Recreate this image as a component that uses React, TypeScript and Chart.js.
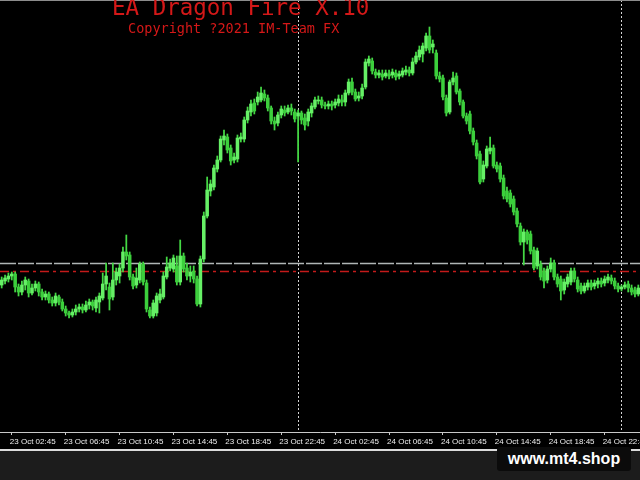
import { useEffect, useRef } from "react";
import { Chart, registerables } from "chart.js";

Chart.register(...registerables);

// M15 candles, first candle = 23 Oct 02:00 (prices in points)
const open = [
  215, 219, 221, 224, 226, 213, 208, 215, 219, 207,
  212, 216, 208, 203, 206, 200, 197, 203, 198, 191,
  187, 185, 188, 191, 193, 190, 195, 198, 192, 198,
  202, 216, 213, 203, 220, 224, 232, 248, 245, 223,
  215, 220, 236, 217, 190, 184, 187, 200, 203, 223,
  232, 231, 234, 218, 244, 232, 224, 229, 221, 196,
  241, 284,
  309, 313, 331, 340, 360, 363, 352, 340, 341, 361,
  361, 380, 388, 397, 398, 400, 406, 402, 392, 379,
  377, 385, 390, 388, 392, 388, 384, 387, 382, 379,
  387, 393, 399, 400, 395, 394, 396, 395, 397, 400,
  398, 407, 418, 408, 402, 404, 413, 437, 439, 428,
  425, 426, 424, 426, 425, 427, 424, 425, 428, 430,
  427, 438, 443, 446,
  452, 464, 453, 447, 424, 422, 402, 388, 418, 424,
  409, 398, 384, 386, 369, 357, 346, 321, 334, 349,
  352, 335, 334, 322, 309, 307, 301, 289, 274, 258,
  268, 266, 250, 234, 236, 229, 220, 231, 237, 223,
  221, 210, 216, 218, 229, 220, 214, 209, 213, 217,
  214, 216, 219, 217, 220, 222, 219, 214, 211, 213,
  216, 212, 210, 206,
];
const close = [
  220, 222, 224, 226, 213, 208, 215, 220, 207, 212,
  216, 208, 203, 206, 200, 197, 204, 198, 191, 187,
  185, 188, 191, 193, 190, 195, 198, 194, 200, 204,
  216, 224, 201, 220, 228, 232, 248, 244, 223, 214,
  222, 236, 218, 191, 184, 197, 204, 206, 224, 233,
  237, 242, 218, 244, 231, 224, 228, 221, 196, 241,
  284, 310,
  316, 332, 340, 361, 364, 350, 339, 343, 362, 363,
  380, 389, 396, 389, 403, 407, 402, 392, 379, 376,
  385, 391, 387, 392, 389, 381, 387, 380, 375, 388,
  394, 400, 400, 395, 394, 396, 394, 398, 401, 398,
  407, 418, 408, 401, 404, 412, 438, 441, 429, 425,
  427, 423, 427, 424, 428, 423, 426, 429, 430, 427,
  438, 444, 450, 454,
  464, 450, 456, 424, 421, 403, 387, 418, 422, 408,
  398, 384, 379, 369, 358, 344, 318, 335, 351, 352,
  334, 331, 321, 304, 301, 296, 288, 276, 258, 268,
  260, 249, 232, 249, 223, 219, 231, 237, 223, 216,
  209, 218, 223, 229, 221, 211, 209, 214, 217, 213,
  217, 219, 216, 221, 223, 219, 214, 211, 213, 215,
  212, 208, 206, 212,
];
const high = [
  223, 225, 227, 228, 228, 216, 219, 223, 221, 216,
  219, 218, 211, 209, 208, 203, 207, 205, 201, 194,
  189, 191, 195, 196, 196, 199, 201, 200, 203, 207,
  227, 237, 217, 237, 232, 236, 253, 265, 248, 226,
  232, 238, 238, 220, 193, 200, 207, 211, 228, 243,
  241, 245, 244, 260, 247, 237, 234, 234, 224, 244,
  288, 323,
  320, 335, 344, 364, 370, 366, 355, 347, 365, 367,
  383, 393, 400, 401, 408, 413, 410, 405, 394, 383,
  388, 394, 394, 395, 396, 391, 390, 389, 386, 391,
  397, 403, 404, 403, 398, 399, 399, 401, 405, 405,
  410, 421, 422, 411, 408, 416, 441, 444, 442, 431,
  430, 430, 430, 430, 431, 430, 429, 432, 434, 433,
  442, 448, 454, 457,
  467, 473, 460, 450, 428, 425, 405, 420, 428, 427,
  411, 400, 387, 389, 372, 360, 349, 339, 354, 363,
  355, 338, 337, 325, 313, 310, 304, 292, 277, 271,
  270, 269, 253, 252, 239, 232, 234, 242, 240, 226,
  224, 221, 226, 232, 232, 223, 217, 217, 220, 220,
  220, 222, 222, 224, 226, 225, 222, 217, 215, 218,
  219, 215, 213, 215,
];
const low = [
  212, 216, 218, 220, 208, 204, 205, 210, 203, 205,
  209, 204, 200, 200, 197, 194, 194, 195, 189, 184,
  182, 183, 185, 188, 187, 188, 191, 190, 188, 187,
  200, 210, 190, 200, 215, 217, 228, 240, 220, 211,
  212, 217, 215, 188, 182, 182, 184, 197, 201, 221,
  229, 228, 215, 215, 228, 220, 218, 217, 194, 193,
  238, 282,
  304, 310, 328, 338, 355, 347, 335, 337, 338, 358,
  358, 377, 384, 386, 395, 398, 399, 389, 376, 370,
  374, 382, 384, 386, 385, 378, 338, 376, 370, 374,
  383, 391, 396, 392, 391, 391, 390, 392, 394, 394,
  394, 405, 405, 399, 399, 401, 411, 434, 426, 422,
  422, 420, 422, 421, 422, 420, 421, 423, 425, 424,
  425, 436, 440, 438,
  449, 447, 447, 421, 418, 400, 384, 386, 415, 406,
  395, 382, 376, 366, 355, 341, 316, 318, 332, 346,
  332, 328, 318, 301, 298, 293, 285, 273, 255, 235,
  256, 246, 230, 231, 220, 212, 217, 228, 220, 213,
  200, 206, 213, 215, 218, 208, 206, 207, 210, 210,
  211, 212, 213, 214, 217, 216, 211, 208, 209, 211,
  208, 205, 203, 204,
];

const tickLabels = [
  "23 Oct 02:45", "23 Oct 06:45", "23 Oct 10:45", "23 Oct 14:45",
  "23 Oct 18:45", "23 Oct 22:45", "24 Oct 02:45", "24 Oct 06:45",
  "24 Oct 10:45", "24 Oct 14:45", "24 Oct 18:45", "24 Oct 22:45",
];
const firstTickCandle = 3; // 23 Oct 02:45
const candlesPerTick = 16; // 4 hours of M15
const daySeparatorCandles = [88, 184]; // 24 Oct 00:00, 25 Oct 00:00
const grayLevel = 237;
const redLevel = 229.5;
const titleText = "EA Dragon Fire X.10";
const copyrightText = "Copyright ?2021 IM-Team FX";

const overlayPlugin = {
  id: "mt4overlay",
  beforeDraw(chart: any) {
    const { ctx, width, height } = chart;
    ctx.save();
    ctx.fillStyle = "#000000";
    ctx.fillRect(0, 0, width, height);
    ctx.restore();
  },
  beforeDatasetsDraw(chart: any) {
    const { ctx, chartArea: a, scales } = chart;
    const x = scales.x;
    const y = scales.y;
    ctx.save();
    ctx.lineWidth = 1;
    // day separators
    ctx.strokeStyle = "#d4d4d4";
    ctx.setLineDash([2, 2]);
    daySeparatorCandles.forEach((i) => {
      const px = Math.round(x.getPixelForValue(i)) + 0.5;
      ctx.beginPath();
      ctx.moveTo(px, a.top);
      ctx.lineTo(px, a.bottom);
      ctx.stroke();
    });
    // gray level
    const gy = Math.round(y.getPixelForValue(grayLevel)) + 0.5;
    ctx.strokeStyle = "#b0b6b6";
    ctx.lineWidth = 1.3;
    ctx.setLineDash([16, 2]);
    ctx.beginPath();
    ctx.moveTo(a.left, gy);
    ctx.lineTo(a.right, gy);
    ctx.stroke();
    // red level
    const ry = Math.round(y.getPixelForValue(redLevel)) + 0.5;
    ctx.strokeStyle = "#c41a1a";
    ctx.lineWidth = 1.5;
    ctx.setLineDash([9, 4, 3, 4]);
    ctx.beginPath();
    ctx.moveTo(a.left, ry);
    ctx.lineTo(a.right, ry);
    ctx.stroke();
    ctx.restore();
  },
  afterDraw(chart: any) {
    const { ctx, width } = chart;
    ctx.save();
    ctx.fillStyle = "#8c8c8c";
    ctx.fillRect(0, 0, width, 1);
    ctx.fillStyle = "#d41818";
    ctx.textBaseline = "alphabetic";
    ctx.textAlign = "left";
    ctx.font = '22.5px "DejaVu Sans Mono"';
    ctx.fillText(titleText, 112, 15);
    ctx.font = '13.5px "DejaVu Sans Mono"';
    ctx.fillText(copyrightText, 128, 33);
    ctx.restore();
  },
};

export default function App() {
  const ref = useRef<HTMLCanvasElement | null>(null);

  useEffect(() => {
    if (!ref.current) return;
    const labels = open.map((_, i) => i);
    const bodyColors = open.map((o, i) => (close[i] >= o ? "#66f066" : "#3ccf3c"));
    const chart = new Chart(ref.current, {
      type: "bar",
      data: {
        labels,
        datasets: [
          {
            label: "body",
            data: open.map((o, i) => [o, close[i]]) as any,
            backgroundColor: bodyColors,
            borderWidth: 0,
            barThickness: 2.9,
            minBarLength: 1,
            grouped: false,
            order: 0,
          } as any,
          {
            label: "wick",
            data: low.map((l, i) => [l, high[i]]) as any,
            backgroundColor: "#44d844",
            borderWidth: 0,
            barThickness: 1.1,
            grouped: false,
            order: 1,
          } as any,
        ],
      },
      options: {
        responsive: false,
        animation: false,
        events: [],
        layout: { padding: 0, autoPadding: false } as any,
        plugins: { legend: { display: false }, tooltip: { enabled: false } },
        scales: {
          x: {
            type: "category",
            offset: true,
            grid: {
              offset: false,
              drawOnChartArea: false,
              drawTicks: true,
              tickLength: 3,
              color: "#c8c8c8",
            },
            border: { display: true, color: "#c8c8c8", width: 1 },
            ticks: {
              autoSkip: false,
              maxRotation: 0,
              minRotation: 0,
              align: "start",
              labelOffset: -2,
              padding: 2,
              color: "#ececec",
              font: { family: "Liberation Sans", size: 8 },
              callback: (_v: any, i: number) => {
                const k = (i - firstTickCandle) / candlesPerTick;
                if (i >= firstTickCandle && Number.isInteger(k) && k < tickLabels.length) return tickLabels[k];
                return null;
              },
            },
            afterFit: (s: any) => {
              s.height = 17;
              s.paddingLeft = 0;
              s.paddingRight = 0;
            },
          } as any,
          y: {
            display: false,
            min: 68,
            max: 500,
          },
        },
      },
      plugins: [overlayPlugin],
    });
    return () => chart.destroy();
  }, []);

  return (
    <div
      style={{
        position: "fixed",
        left: 0,
        top: 0,
        width: 640,
        height: 480,
        background: "#1c1c1c",
        overflow: "hidden",
      }}
    >
      <canvas ref={ref} width={640} height={449} style={{ display: "block", width: 640, height: 449 }} />
      <div style={{ position: "absolute", left: 0, top: 449, width: 640, height: 2, background: "#dcdcdc" }} />
      <div
        style={{
          position: "absolute",
          left: 497,
          top: 447,
          width: 134,
          height: 24,
          background: "#0b0b0b",
          borderRadius: 3,
          color: "#ffffff",
          fontFamily: '"Liberation Sans", Arial, sans-serif',
          fontWeight: "bold",
          fontSize: 16,
          lineHeight: "24px",
          textAlign: "center",
        }}
      >
        www.mt4.shop
      </div>
    </div>
  );
}
